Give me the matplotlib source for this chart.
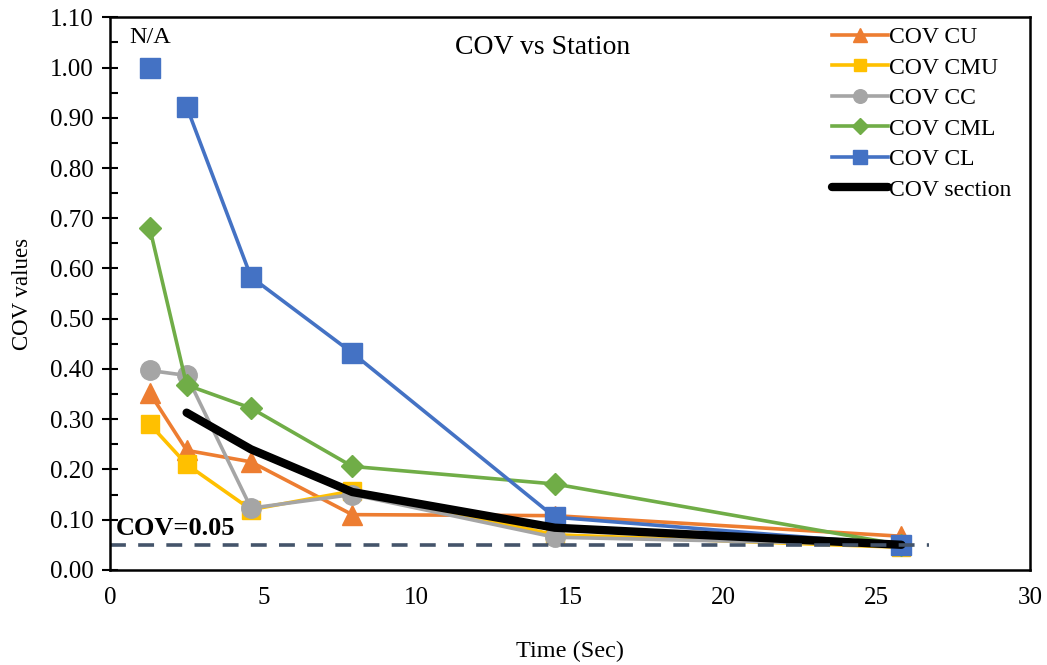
import numpy as np
import matplotlib.pyplot as plt

plt.rcParams['font.family'] = ['Liberation Serif', 'DejaVu Serif']

time = [1.3, 2.5, 4.6, 7.9, 14.5, 25.8]
cov_cu = [0.352, 0.238, 0.215, 0.110, 0.108, 0.067]
cov_cmu = [0.290, 0.210, 0.120, 0.157, 0.070, 0.045]
cov_cc = [0.397, 0.387, 0.123, 0.150, 0.065, 0.050]
cov_cml = [0.680, 0.368, 0.322, 0.206, 0.171, 0.050]
cov_cl = [1.000, 0.922, 0.583, 0.432, 0.105, 0.050]
section_time = [2.5, 4.6, 7.9, 14.5, 25.8]
cov_section = [0.313, 0.240, 0.155, 0.084, 0.050]
threshold = 0.05

fig = plt.figure(figsize=(10.47, 6.65), dpi=100)
ax = fig.add_axes([0.105, 0.143, 0.879, 0.831])

ax.plot(time, cov_cu, color='#ED7D31', lw=2.6, marker='^', ms=14, label='COV CU')
ax.plot(time, cov_cmu, color='#FFC000', lw=2.6, marker='s', ms=13, label='COV CMU')
ax.plot(time, cov_cc, color='#A5A5A5', lw=2.6, marker='o', ms=14, label='COV CC')
ax.plot(time, cov_cml, color='#70AD47', lw=2.6, marker='D', ms=11, label='COV CML')
# first CL point has no connecting line (N/A)
ax.plot(time[1:], cov_cl[1:], color='#4472C4', lw=2.6, marker='s', ms=14, label='COV CL')
ax.plot(time[:1], cov_cl[:1], color='#4472C4', lw=0, marker='s', ms=14)
ax.plot(section_time, cov_section, color='black', lw=6, solid_capstyle='round', label='COV section')

ax.plot([0, 26.7], [threshold, threshold], color='#44546A', lw=2.6, dashes=(4.4, 3.4))

ax.text(0.2, 0.082, 'COV=0.05', fontsize=19, fontweight='bold', va='center')
ax.text(time[0], 1.06, 'N/A', fontsize=17.5, ha='center', va='center')
ax.text(14.1, 1.04, 'COV vs Station', fontsize=20, ha='center', va='center')

ax.set_xlim(0, 30)
ax.set_ylim(0, 1.1)
ax.set_xticks(np.arange(0, 31, 5))
ax.set_yticks(np.arange(0, 1.101, 0.1))
ax.set_yticks(np.arange(0.05, 1.1, 0.1), minor=True)
ax.set_yticklabels(['%.2f' % v for v in np.arange(0, 1.101, 0.1)])
ax.tick_params(axis='y', which='major', direction='inout', length=12, width=1.5, labelsize=18, pad=6)
ax.tick_params(axis='y', which='minor', direction='in', length=6, width=1.5)
ax.tick_params(axis='x', length=0, labelsize=18, pad=12)
for s in ax.spines.values():
    s.set_linewidth(1.8)

ax.set_xlabel('Time (Sec)', fontsize=17.5, labelpad=23)
ax.set_ylabel('COV values', fontsize=16.5, labelpad=12)

ax.legend(loc='upper right', bbox_to_anchor=(0.99, 1.0), frameon=False, fontsize=17,
          handlelength=2.4, handletextpad=0.05, labelspacing=0.38,
          borderaxespad=0.1, borderpad=0.3, markerscale=0.7)

fig.savefig('out.png', dpi=100)
